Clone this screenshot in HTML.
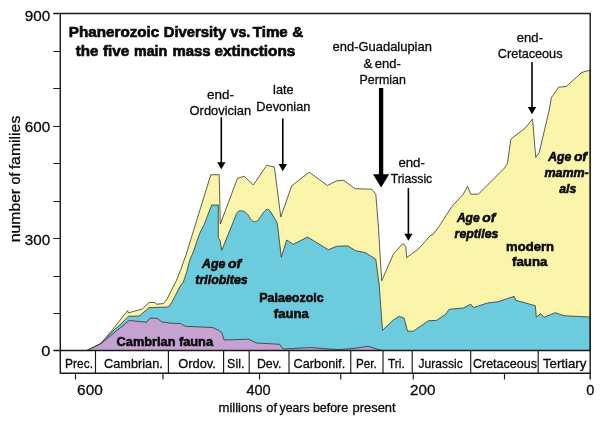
<!DOCTYPE html>
<html lang="en"><head><meta charset="utf-8"><title>Phanerozoic Diversity vs. Time</title>
<style>html,body{margin:0;padding:0;background:#fff}svg{display:block}text{font-family:"Liberation Sans",sans-serif;fill:#0a0a0a;stroke:#0a0a0a;stroke-width:.3px}.b{font-weight:bold;stroke-width:.55px}.bi{font-weight:bold;font-style:italic;stroke-width:.55px}.t{font-weight:bold;stroke-width:.65px}</style></head><body>
<svg width="600" height="421" viewBox="0 0 600 421">
<rect width="600" height="421" fill="#fff"/>
<polygon points="87,350.5 100.6,343.6 112.3,330 120,320.2 127.6,310.7 128.4,312.8 142.3,309 149,302.5 155,302.5 156.3,304.2 163.4,303.6 166.6,299.8 176.3,280.7 180.6,270 186,255 210.8,174.7 219.2,174.7 220.3,224 237.5,178.3 244.2,176.2 253.3,185 266.7,165.3 274.2,167 275,171.7 280.8,217 291.7,185.8 309.2,172.2 327.5,185.5 336.7,180.8 343.8,180.3 355,188.7 371.7,189.2 375.8,194.2 378.3,225 381.7,280.8 393.3,254.2 402.3,244 404,244.2 405.8,246.7 406.7,257.5 418.3,249.2 430,235.8 433.3,234.2 440,225 451.7,206.7 463.3,194.2 467.5,186.2 470.8,194.2 478.3,194.2 493.3,179.2 505,167.5 507.5,163.3 510.8,139.2 515,135.8 525,128.3 532.5,119 535.8,157.5 539.2,152.5 549.2,110 551.4,97.6 558.8,87.1 566.1,86.6 581.7,72.5 590,70.1 590,350.5" fill="#faf5aa" stroke="#2a2a2a" stroke-width="0.75" stroke-linejoin="miter"/>
<polygon points="87,350.5 100.8,343.6 114,330 120,324.8 127.3,317.6 128.4,316.3 139.2,316 149.2,307.6 168.5,307 172,302 180,286.4 183.2,282.3 186.8,271.8 189.6,260.4 194.1,250 197.2,240 200.3,232 204,225 207.8,215 211.7,205 218.3,205 218.3,238.3 220,240 221.7,250.3 230.8,228 236.7,213.3 238.0,211.7 239.2,210.9 240.4,210.7 241.7,210.8 243.2,211.2 244.7,212.0 246.2,213.1 247.5,214.2 248.5,215.4 249.3,216.8 250.0,218.1 250.8,219.2 251.7,220.1 252.6,220.9 253.6,221.4 254.5,221.7 255.5,221.6 256.5,221.2 257.5,220.6 258.3,220.0 258.8,219.5 259.0,219.1 259.3,218.5 260.0,217.5 261.2,215.8 262.7,213.5 264.4,211.4 265.8,210.0 266.9,209.4 267.8,209.2 268.8,209.7 270,210.8 276.7,221.7 277.5,225 281.3,257.2 286.7,240 293.3,244.3 307.5,237 328.3,249.7 336.7,246.3 347.5,245.8 355.8,250.8 365,252.5 375.8,259.2 379.2,285 382.5,330.3 393.3,320 399.2,316.3 404.2,318.3 407.5,331.2 413.3,331.2 428.3,320.8 436.7,320.3 445.8,314.2 449.2,309.2 460,308.3 463.3,308 470.8,304.2 473.3,307.5 487.5,303 498.3,301.7 514.2,296.3 515.8,300.3 535.3,305.7 536.3,317 540.7,313.7 544,317.3 555.3,312.7 564,315.7 590,317 590,350.5" fill="#6ccbdd" stroke="#2a2a2a" stroke-width="0.75"/>
<polygon points="87,350.5 101.2,343.6 117.5,330 120,328.1 128.3,321 130.4,320.6 146.7,322.3 150,318.2 157.1,318.3 161.7,321.8 170,323.1 180.5,323.6 185.7,326.3 212.5,327.5 217.5,329.7 221.7,332.5 224.2,340 248.3,339.2 256.7,343 279.5,344.3 283,349 310,347.6 338,349.6 354,348.4 368,346.4 382,350.5" fill="#c5a3d1" stroke="#2a2a2a" stroke-width="0.75"/>
<g stroke="#1a1a1a" stroke-width="1.15" fill="none">
<path d="M60.3,13.5V373.8M53.3,13.5H590.8M590.2,13.5V379.5M53.3,350.5H590.2M59.7,373.3H590.2" stroke-width="1.4"/>
<path d="M53.3,51.5H60.3M53.3,88.5H60.3M53.3,126.5H60.3M53.3,163.5H60.3M53.3,201.5H60.3M53.3,238.5H60.3M53.3,276.5H60.3M53.3,313.5H60.3"/>
<path d="M95.5,350.5V373.3M168.4,350.5V373.3M223.6,350.5V373.3M249.2,350.5V373.3M289,350.5V373.3M350.75,350.5V373.3M383,350.5V373.3M412.2,350.5V373.3M470.7,350.5V373.3M538.2,350.5V373.3"/>
<path d="M75.5,373.3V379.5M163,373.3V379.5M259.5,373.3V379.5M340.75,373.3V379.5M413.25,373.3V379.5M504.5,373.3V379.5"/>
</g>
<path d="M221.3,117.2V162.7" stroke="#000" stroke-width="1.6" fill="none"/><polygon points="217.10000000000002,162.2 225.5,162.2 221.3,169.2" fill="#000"/>
<path d="M282.8,118.5V164.6" stroke="#000" stroke-width="1.6" fill="none"/><polygon points="278.6,164.1 287.0,164.1 282.8,171.3" fill="#000"/>
<path d="M381.1,88V174.8" stroke="#000" stroke-width="4.3" fill="none"/><polygon points="373.0,174.3 389.20000000000005,174.3 381.1,187.6" fill="#000"/>
<path d="M408.4,188V234.3" stroke="#000" stroke-width="1.6" fill="none"/><polygon points="404.29999999999995,233.8 412.5,233.8 408.4,240.8" fill="#000"/>
<path d="M532,62V107.5" stroke="#000" stroke-width="1.6" fill="none"/><polygon points="527.8,107 536.2,107 532,114.3" fill="#000"/>
<text class="t" y="36.7" font-size="14.5"><tspan x="68.8" textLength="90.5" lengthAdjust="spacingAndGlyphs">Phanerozoic</tspan> <tspan x="163.7" textLength="62.6" lengthAdjust="spacingAndGlyphs">Diversity</tspan> <tspan x="230.5" textLength="19.7" lengthAdjust="spacingAndGlyphs">vs.</tspan> <tspan x="252.8" textLength="34.9" lengthAdjust="spacingAndGlyphs">Time</tspan> <tspan x="292.3" textLength="11.0" lengthAdjust="spacingAndGlyphs">&amp;</tspan></text>
<text class="t" y="56" font-size="14.5"><tspan x="75.7" textLength="22.7" lengthAdjust="spacingAndGlyphs">the</tspan> <tspan x="103.0" textLength="26.4" lengthAdjust="spacingAndGlyphs">five</tspan> <tspan x="134.0" textLength="33.3" lengthAdjust="spacingAndGlyphs">main</tspan> <tspan x="172.4" textLength="38.2" lengthAdjust="spacingAndGlyphs">mass</tspan> <tspan x="214.4" textLength="80.9" lengthAdjust="spacingAndGlyphs">extinctions</tspan></text>
<text x="206.9" y="98.8" font-size="12.8" textLength="27.0" lengthAdjust="spacingAndGlyphs">end-</text>
<text x="189.6" y="114.8" font-size="12.8" textLength="61.5" lengthAdjust="spacingAndGlyphs">Ordovician</text>
<text x="273.1" y="94" font-size="12.8" textLength="20.5" lengthAdjust="spacingAndGlyphs">late</text>
<text x="256.3" y="110.5" font-size="12.8" textLength="54.1" lengthAdjust="spacingAndGlyphs">Devonian</text>
<text x="332.6" y="51.2" font-size="12.8" textLength="99.3" lengthAdjust="spacingAndGlyphs">end-Guadalupian</text>
<text y="67.5" font-size="12.8"><tspan x="363.6" textLength="8.9" lengthAdjust="spacingAndGlyphs">&amp;</tspan> <tspan x="374.8" textLength="26.0" lengthAdjust="spacingAndGlyphs">end-</tspan></text>
<text x="359.6" y="83.6" font-size="12.8" textLength="46.2" lengthAdjust="spacingAndGlyphs">Permian</text>
<text x="398.4" y="166.5" font-size="12.8" textLength="26.5" lengthAdjust="spacingAndGlyphs">end-</text>
<text x="390.8" y="182.8" font-size="12.8" textLength="41.4" lengthAdjust="spacingAndGlyphs">Triassic</text>
<text x="516.8" y="41.7" font-size="12.8" textLength="26.2" lengthAdjust="spacingAndGlyphs">end-</text>
<text x="497.8" y="57.8" font-size="12.8" textLength="64.7" lengthAdjust="spacingAndGlyphs">Cretaceous</text>
<text class="bi" y="267.6" font-size="12.5"><tspan x="202.0" textLength="23.3" lengthAdjust="spacingAndGlyphs">Age</tspan> <tspan x="228.0" textLength="13.2" lengthAdjust="spacingAndGlyphs">of</tspan></text>
<text class="bi" x="195.3" y="283.5" font-size="12.5" textLength="52.4" lengthAdjust="spacingAndGlyphs">trilobites</text>
<text class="b" x="259.3" y="302" font-size="12.5" textLength="64.4" lengthAdjust="spacingAndGlyphs">Palaeozoic</text>
<text class="b" x="273.8" y="318.3" font-size="12.5" textLength="34.9" lengthAdjust="spacingAndGlyphs">fauna</text>
<text class="b" y="345.7" font-size="12.5"><tspan x="116.6" textLength="58.9" lengthAdjust="spacingAndGlyphs">Cambrian</tspan> <tspan x="178.9" textLength="34.2" lengthAdjust="spacingAndGlyphs">fauna</tspan></text>
<text class="bi" y="222.2" font-size="12.5"><tspan x="456.9" textLength="22.8" lengthAdjust="spacingAndGlyphs">Age</tspan> <tspan x="482.3" textLength="13.0" lengthAdjust="spacingAndGlyphs">of</tspan></text>
<text class="bi" x="454.6" y="238.4" font-size="12.5" textLength="43.8" lengthAdjust="spacingAndGlyphs">reptiles</text>
<text class="b" x="506.0" y="251" font-size="12.5" textLength="48.0" lengthAdjust="spacingAndGlyphs">modern</text>
<text class="b" x="512.0" y="266.4" font-size="12.5" textLength="35.4" lengthAdjust="spacingAndGlyphs">fauna</text>
<text class="bi" y="160.5" font-size="12.5"><tspan x="548.3" textLength="23.0" lengthAdjust="spacingAndGlyphs">Age</tspan> <tspan x="573.9" textLength="13.1" lengthAdjust="spacingAndGlyphs">of</tspan></text>
<text class="bi" x="544.4" y="176.6" font-size="12.5" textLength="44.3" lengthAdjust="spacingAndGlyphs">mamm-</text>
<text class="bi" x="559.2" y="192.5" font-size="12.5" textLength="17.1" lengthAdjust="spacingAndGlyphs">als</text>
<text x="24.8" y="20.6" font-size="15" textLength="25.4" lengthAdjust="spacingAndGlyphs">900</text>
<text x="24.8" y="132.3" font-size="15" textLength="25.4" lengthAdjust="spacingAndGlyphs">600</text>
<text x="24.8" y="245.1" font-size="15" textLength="25.4" lengthAdjust="spacingAndGlyphs">300</text>
<text x="41.2" y="356" font-size="15" textLength="9.1" lengthAdjust="spacingAndGlyphs">0</text>
<text x="77.1" y="394.5" font-size="15" textLength="25.7" lengthAdjust="spacingAndGlyphs">600</text>
<text x="246.4" y="394.5" font-size="15" textLength="24.2" lengthAdjust="spacingAndGlyphs">400</text>
<text x="410.1" y="394.5" font-size="15" textLength="25.3" lengthAdjust="spacingAndGlyphs">200</text>
<text x="586.3" y="394.5" font-size="15" textLength="8.1" lengthAdjust="spacingAndGlyphs">0</text>
<text x="65.1" y="368.3" font-size="13.3" textLength="27.9" lengthAdjust="spacingAndGlyphs">Prec.</text>
<text x="104.1" y="368.3" font-size="13.3" textLength="58.7" lengthAdjust="spacingAndGlyphs">Cambrian.</text>
<text x="178.2" y="368.3" font-size="13.3" textLength="37.7" lengthAdjust="spacingAndGlyphs">Ordov.</text>
<text x="227.1" y="368.3" font-size="13.3" textLength="17.3" lengthAdjust="spacingAndGlyphs">Sil.</text>
<text x="256.9" y="368.3" font-size="13.3" textLength="24.5" lengthAdjust="spacingAndGlyphs">Dev.</text>
<text x="293.6" y="368.3" font-size="13.3" textLength="51.6" lengthAdjust="spacingAndGlyphs">Carbonif.</text>
<text x="355.9" y="368.3" font-size="13.3" textLength="20.8" lengthAdjust="spacingAndGlyphs">Per.</text>
<text x="388.1" y="368.3" font-size="13.3" textLength="16.6" lengthAdjust="spacingAndGlyphs">Tri.</text>
<text x="418.6" y="368.3" font-size="13.3" textLength="44.1" lengthAdjust="spacingAndGlyphs">Jurassic</text>
<text x="472.9" y="368.3" font-size="13.3" textLength="64.2" lengthAdjust="spacingAndGlyphs">Cretaceous</text>
<text x="542.9" y="368.3" font-size="13.3" textLength="43.5" lengthAdjust="spacingAndGlyphs">Tertiary</text>
<text y="412" font-size="12.7"><tspan x="218.5" textLength="43.6" lengthAdjust="spacingAndGlyphs">millions</tspan> <tspan x="266.3" textLength="10.7" lengthAdjust="spacingAndGlyphs">of</tspan> <tspan x="279.6" textLength="30.0" lengthAdjust="spacingAndGlyphs">years</tspan> <tspan x="312.9" textLength="35.3" lengthAdjust="spacingAndGlyphs">before</tspan> <tspan x="352.6" textLength="43.0" lengthAdjust="spacingAndGlyphs">present</tspan></text>
<g transform="translate(19.9,241.8) rotate(-90)"><text y="0" font-size="15"><tspan x="-0.4" textLength="53.3" lengthAdjust="spacingAndGlyphs">number</tspan> <tspan x="57.4" textLength="11.8" lengthAdjust="spacingAndGlyphs">of</tspan> <tspan x="72.5" textLength="53.6" lengthAdjust="spacingAndGlyphs">families</tspan></text></g>
</svg></body></html>
